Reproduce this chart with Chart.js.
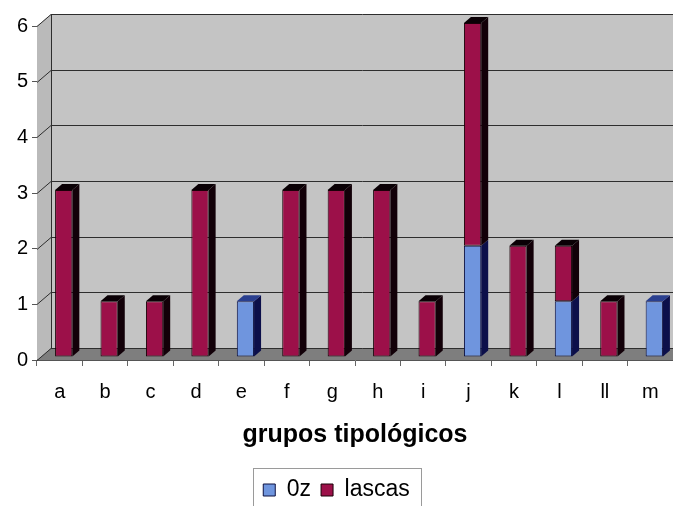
<!DOCTYPE html>
<html>
<head>
<meta charset="utf-8">
<script src="https://cdn.jsdelivr.net/npm/chart.js@4.4.0/dist/chart.umd.min.js"></script>
<style>
html,body{margin:0;padding:0;background:#fff;}
#wrap{width:673px;height:506px;}
</style>
</head>
<body>
<div id="wrap"><canvas id="c" width="673" height="506"></canvas></div>
<script>
const categories = ['a','b','c','d','e','f','g','h','i','j','k','l','ll','m'];
const seriesOz =     [0,0,0,0,1,0,0,0,0,2,0,1,0,1];
const seriesLascas = [3,1,1,3,0,3,3,3,1,4,2,1,1,0];
const yTicks = [0,1,2,3,4,5,6];

const WALL_DX = 14, WALL_DY = -12;   // depth of the 3D walls
const BAR_OX = 4, BAR_OY = -3;       // front face offset into depth
const BAR_DX = 7, BAR_DY = -6;       // bar depth
const LEGEND_CENTER_Y = 490;

const sideColors = {
  0: {side:'#0c0f4a', top:'#2a3f8f'},
  1: {side:'#120008', top:'#0a0005'}
};

const walls = {
  id:'walls',
  beforeDraw(chart){
    const lg = chart.legend;
    if(!lg || !lg.legendHitBoxes || !lg.legendHitBoxes.length) return;
    const h0 = lg.legendHitBoxes[0];
    const s = LEGEND_CENTER_Y - (h0.top + h0.height/2);
    lg.top += s; lg.bottom += s;
    lg.legendHitBoxes.forEach(h=>{ h.top += s; });
  },
  beforeDatasetsDraw(chart){
    const {ctx, chartArea:a, scales:{y}} = chart;
    ctx.save();
    ctx.fillStyle = '#c4c4c4';
    ctx.fillRect(a.left+WALL_DX, a.top+WALL_DY, a.right-a.left+WALL_DX, a.bottom-a.top);
    ctx.fillStyle = '#bababa';
    ctx.beginPath();
    ctx.moveTo(a.left, a.top); ctx.lineTo(a.left+WALL_DX, a.top+WALL_DY);
    ctx.lineTo(a.left+WALL_DX, a.bottom+WALL_DY); ctx.lineTo(a.left, a.bottom);
    ctx.closePath(); ctx.fill();
    ctx.fillStyle = '#7e7e7e';
    ctx.beginPath();
    ctx.moveTo(a.left, a.bottom); ctx.lineTo(a.right+WALL_DX, a.bottom);
    ctx.lineTo(a.right+WALL_DX, a.bottom+WALL_DY); ctx.lineTo(a.left+WALL_DX, a.bottom+WALL_DY);
    ctx.closePath(); ctx.fill();
    ctx.strokeStyle = '#2e2e2e';
    ctx.lineWidth = 1;
    yTicks.forEach(v=>{
      const py = Math.round(y.getPixelForValue(v))+0.5;
      ctx.beginPath();
      ctx.moveTo(a.left, py);
      ctx.lineTo(a.left+WALL_DX, py+WALL_DY);
      ctx.lineTo(a.right+WALL_DX, py+WALL_DY);
      ctx.stroke();
    });
    ctx.beginPath();
    ctx.moveTo(a.left+WALL_DX+0.5, a.top+WALL_DY);
    ctx.lineTo(a.left+WALL_DX+0.5, a.bottom+WALL_DY);
    ctx.stroke();
    ctx.restore();
    ctx.save();
    ctx.translate(BAR_OX, BAR_OY);
  },
  afterDatasetsDraw(chart){
    const {ctx} = chart;
    const n = categories.length;
    const topIdx = [];
    for(let i=0;i<n;i++){
      let t=-1;
      chart.data.datasets.forEach((ds,d)=>{ if(ds.data[i]>0) t=d; });
      topIdx.push(t);
    }
    chart.data.datasets.forEach((ds,d)=>{
      const meta = chart.getDatasetMeta(d);
      meta.data.forEach((bar,i)=>{
        if(!(ds.data[i]>0)) return;
        const p = bar.getProps(['x','y','base','width'], true);
        const L = p.x - p.width/2, R = p.x + p.width/2;
        const T = Math.min(p.y,p.base), B = Math.max(p.y,p.base);
        ctx.fillStyle = sideColors[d].side;
        ctx.beginPath();
        ctx.moveTo(R,T); ctx.lineTo(R+BAR_DX,T+BAR_DY);
        ctx.lineTo(R+BAR_DX,B+BAR_DY); ctx.lineTo(R,B); ctx.closePath(); ctx.fill();
        if(topIdx[i]===d){
          ctx.fillStyle = sideColors[d].top;
          ctx.beginPath();
          ctx.moveTo(L,T); ctx.lineTo(L+BAR_DX,T+BAR_DY);
          ctx.lineTo(R+BAR_DX,T+BAR_DY); ctx.lineTo(R,T); ctx.closePath(); ctx.fill();
        }
      });
    });
    ctx.restore();
  },
  afterDraw(chart){
    const lg = chart.legend;
    if(!lg || !lg.legendHitBoxes || !lg.legendHitBoxes.length) return;
    const hb = lg.legendHitBoxes;
    let l=Infinity,r=-Infinity,t=Infinity,b=-Infinity;
    hb.forEach(h=>{l=Math.min(l,h.left);r=Math.max(r,h.left+h.width);t=Math.min(t,h.top);b=Math.max(b,h.top+h.height);});
    const ctx=chart.ctx;
    ctx.save();
    ctx.strokeStyle='#9a9a9a'; ctx.lineWidth=1;
    const cy = (t+b)/2;
    const top = Math.round(cy-22)+0.5;
    ctx.strokeRect(Math.round(l-10)+0.5, top, Math.round(r-l+22), 520-top);
    ctx.restore();
  }
};

new Chart(document.getElementById('c'), {
  type:'bar',
  data:{
    labels:categories,
    datasets:[
      {label:'0z', data:seriesOz, backgroundColor:'#6f95de', borderColor:'#0c1040', borderWidth:1, borderSkipped:false},
      {label:'lascas', data:seriesLascas, backgroundColor:'#9c1049', borderColor:'#1a0008', borderWidth:1, borderSkipped:false}
    ]
  },
  options:{
    responsive:false,
    animation:false,
    devicePixelRatio:1,
    layout:{padding:{top:26,right:0,left:0,bottom:0}},
    datasets:{bar:{categoryPercentage:1, barPercentage:0.38}},
    scales:{
      x:{
        stacked:true,
        offset:true,
        grid:{display:true, drawOnChartArea:false, offset:true, tickLength:6, color:'#666'},
        border:{display:true, color:'#555'},
        ticks:{color:'#000', font:{family:'Liberation Sans', size:20}, padding:14},
        title:{display:true, text:'grupos tipológicos', color:'#000', font:{family:'Liberation Sans', size:25, weight:'bold'}, padding:{top:2,bottom:13}}
      },
      y:{
        stacked:true,
        min:0, max:6,
        afterFit(s){ s.width = 37; },
        afterBuildTicks(s){ s.ticks = yTicks.map(v=>({value:v})); },
        grid:{display:true, drawOnChartArea:false, tickLength:5, color:'#555'},
        border:{display:true, color:'#555'},
        ticks:{color:'#000', font:{family:'Liberation Sans', size:20}, padding:4}
      }
    },
    plugins:{
      legend:{
        position:'bottom',
        labels:{color:'#000', font:{family:'Liberation Sans', size:23}, boxWidth:12, boxHeight:12, padding:10}
      },
      tooltip:{enabled:false}
    }
  },
  plugins:[walls]
});
</script>
</body>
</html>
